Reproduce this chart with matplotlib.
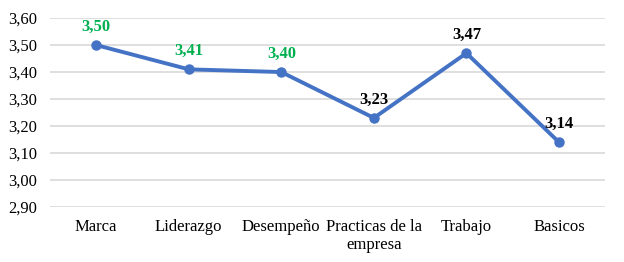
import matplotlib
matplotlib.use('Agg')
import matplotlib.pyplot as plt
from matplotlib.ticker import MultipleLocator, FuncFormatter

plt.rcParams['font.family'] = ['Liberation Serif', 'DejaVu Serif']

categories = ['Marca', 'Liderazgo', 'Desempeño', 'Practicas de la\nempresa', 'Trabajo', 'Basicos']
values = [3.50, 3.41, 3.40, 3.23, 3.47, 3.14]
label_colors = ['#00B050', '#00B050', '#00B050', 'black', 'black', 'black']

fig = plt.figure(figsize=(6.24, 2.62), dpi=100)
ax = fig.add_axes([0.080, 0.210, 0.890, 0.721])

x = list(range(len(categories)))
ax.plot(x, values, color='#4472C4', linewidth=2.8, marker='o', markersize=6.5, zorder=3)

for xi, v, c in zip(x, values, label_colors):
    ax.annotate(f'{v:.2f}'.replace('.', ','), (xi, v), xytext=(0, 7.5), textcoords='offset points',
                ha='center', va='bottom', fontsize=12, fontweight='bold', color=c)

ax.set_xlim(-0.5, len(categories) - 0.5)
ax.set_ylim(2.90, 3.60)
ax.yaxis.set_major_locator(MultipleLocator(0.10))
ax.yaxis.set_major_formatter(FuncFormatter(lambda v, p: f'{v:.2f}'.replace('.', ',')))
ax.set_xticks(x)
ax.set_xticklabels(categories, fontsize=12, linespacing=1.15)
ax.tick_params(axis='both', length=0, labelsize=12)
ax.tick_params(axis='x', pad=9)
ax.tick_params(axis='y', pad=9)
ax.grid(axis='y', color='#D9D9D9', linewidth=1.2)
ax.set_axisbelow(True)
for s in ax.spines.values():
    s.set_visible(False)

fig.savefig('out.png', dpi=100)
